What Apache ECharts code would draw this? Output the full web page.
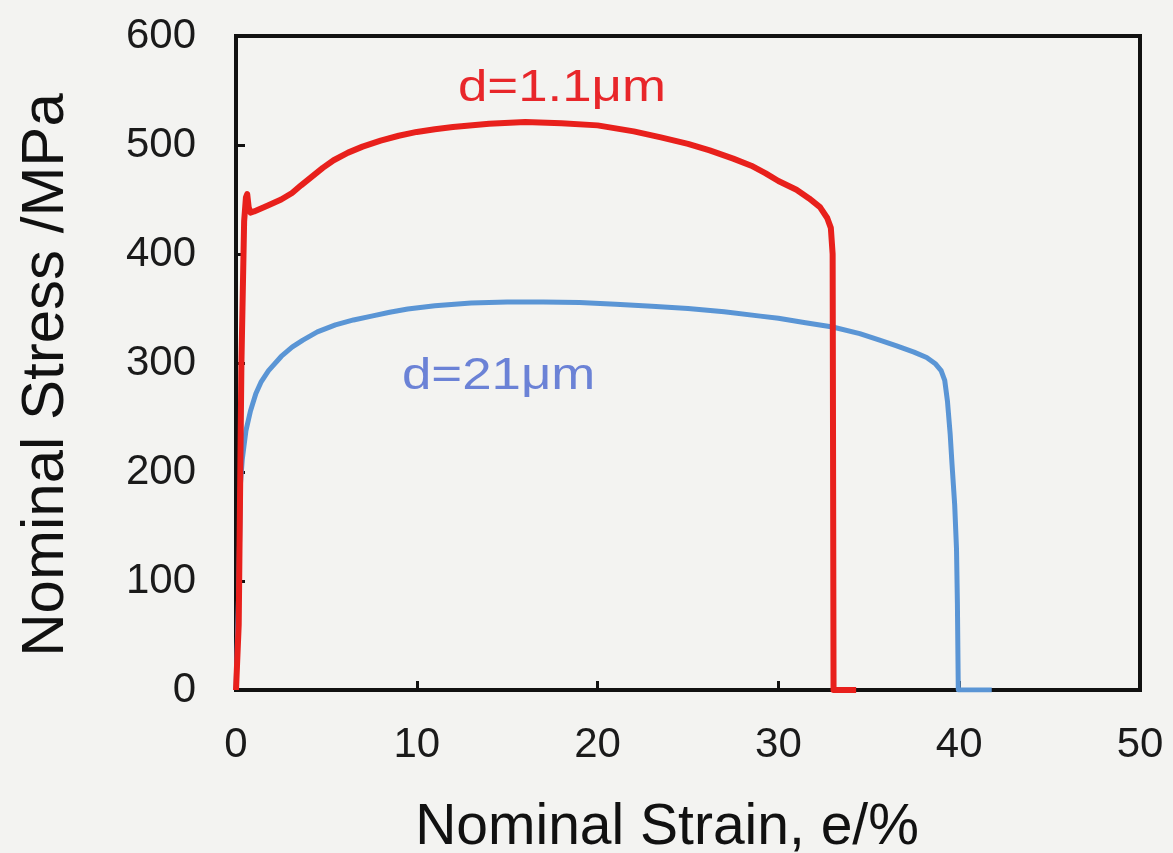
<!DOCTYPE html>
<html>
<head>
<meta charset="utf-8">
<script src="https://cdn.jsdelivr.net/npm/echarts@6/dist/echarts.min.js"></script>
<style>html,body{margin:0;padding:0;background:#f3f3f1;}#c{width:1173px;height:853px;}</style>
</head>
<body>
<div id="c"></div>
<script>
// Data (strain %, stress MPa)
const redName = 'd=1.1\u03bcm';
const blueName = 'd=21\u03bcm';
const redData = [[0,0],[0.15,60],[0.3,300],[0.45,430],[0.55,452],[0.62,455],[0.7,443],[0.8,438],[1.0,439],[1.7,444],[2.5,450],[3.1,456],[3.6,463],[4.2,471],[4.8,479],[5.4,486],[6.2,493],[7,498.5],[8,504],[9,508.5],[10,512],[11,514.5],[12,516.5],[14,519.5],[16,521],[18,520],[20,518],[22,512.5],[23.5,507],[25,501],[26.2,495],[27.5,487.5],[28.5,481],[29.3,474],[30,467],[31,459],[31.7,451],[32.3,443],[32.7,433],[32.9,424],[33,400],[33.05,0],[34.3,0]];
const blueData = [[0,0],[0.15,90],[0.25,190],[0.35,212],[0.55,238],[0.8,256],[1.1,272],[1.4,283],[1.8,293],[2.5,306],[3.1,314.5],[3.7,321],[4.5,328.5],[5.5,335],[6.5,339.5],[7.5,343],[8.5,346.5],[9.5,349.5],[11,352.5],[13,355],[15,356],[17,356],[19,355.5],[21,354],[23,352],[25,350],[27,347],[29,343],[30,341],[31.5,337],[33,333],[34.5,327],[35.6,321],[36.5,316],[37.5,310],[38.2,305],[38.7,299],[39,293],[39.2,284],[39.35,265],[39.5,235],[39.6,208],[39.75,170],[39.85,130],[39.9,80],[39.95,0],[41.8,0]];
const xTicks = [0,10,20,30,40,50];
const yTicks = [0,100,200,300,400,500,600];

const chart = echarts.init(document.getElementById('c'));
const font = 'Liberation Sans, Arial, sans-serif';
chart.setOption({
  backgroundColor: '#f3f3f1',
  animation: false,
  grid: {left: 236, right: 33, top: 36, bottom: 163, containLabel: false, outerBoundsMode: 'none',
         show: true, borderColor: '#111', borderWidth: 4, backgroundColor: 'transparent'},
  xAxis: {
    type: 'value', min: xTicks[0], max: xTicks[xTicks.length-1], interval: 10,
    name: 'Nominal Strain, e/%', nameLocation: 'middle', nameGap: 110,
    nameTextStyle: {fontSize: 57, color: '#111', fontFamily: font, padding: [0, 42, 0, 0]},
    axisLine: {show: true, lineStyle: {color: '#111', width: 4}},
    axisTick: {show: true, inside: true, length: 9, lineStyle: {color: '#111', width: 3}},
    axisLabel: {fontSize: 42, color: '#1a1a1a', fontFamily: font, margin: 34},
    splitLine: {show: false}
  },
  yAxis: {
    type: 'value', min: yTicks[0], max: yTicks[yTicks.length-1], interval: 100,
    name: 'Nominal Stress /MPa', nameLocation: 'middle', nameGap: 160, nameRotate: 90,
    nameTextStyle: {fontSize: 60, color: '#111', fontFamily: font, padding: [0, 24, 0, 0]},
    axisLine: {show: true, lineStyle: {color: '#111', width: 4}},
    axisTick: {show: true, inside: true, length: 9, lineStyle: {color: '#111', width: 3}},
    axisLabel: {fontSize: 42, color: '#1a1a1a', fontFamily: font, margin: 40},
    splitLine: {show: false}
  },
  series: [
    {name: blueName, type: 'line', data: blueData, showSymbol: false, smooth: false,
     lineStyle: {color: '#5a95d5', width: 5, join: 'round'}, z: 2},
    {name: redName, type: 'line', data: redData, showSymbol: false, smooth: false,
     lineStyle: {color: '#e8201c', width: 6, join: 'round'}, z: 3}
  ],
  graphic: [
    {type: 'text', x: 458, y: 67, scaleX: 1.2, style: {text: redName, fontSize: 44, fill: '#e8262a', fontFamily: font}},
    {type: 'text', x: 402, y: 355, scaleX: 1.2, style: {text: blueName, fontSize: 44, fill: '#6b82d6', fontFamily: font}}
  ]
});
</script>
</body>
</html>
